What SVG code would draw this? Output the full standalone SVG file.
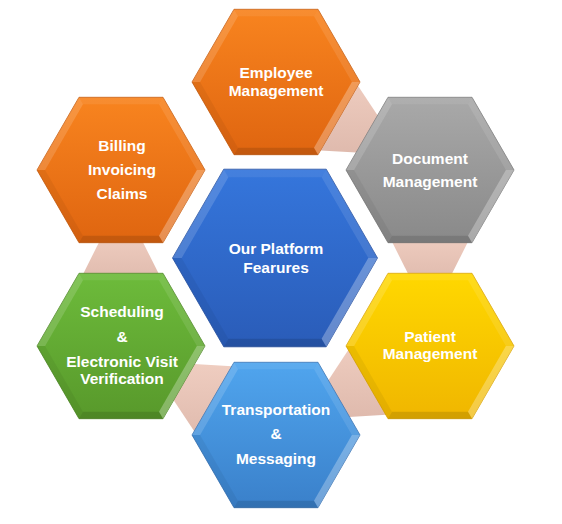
<svg xmlns="http://www.w3.org/2000/svg" xmlns:xlink="http://www.w3.org/1999/xlink" width="562" height="524" viewBox="0 0 562 524">
<defs>
<style>
.t{font-family:"Liberation Sans",Arial,sans-serif;font-weight:bold;font-size:15.5px;fill:#ffffff;text-anchor:middle}
.con{fill:url(#gCon);stroke:none}
.hw{fill:#ffffff}
.hb{fill:#000000}
</style>
<linearGradient id="gCon" x1="0" y1="0" x2="0" y2="1"><stop offset="0" stop-color="#EFCDC0"/><stop offset="1" stop-color="#DFBAAD"/></linearGradient>
<linearGradient id="gOr" x1="0" y1="0" x2="0" y2="1"><stop offset="0" stop-color="#F8841F"/><stop offset="1" stop-color="#DF6510"/></linearGradient>
<linearGradient id="gGy" x1="0" y1="0" x2="0" y2="1"><stop offset="0" stop-color="#A9A9A9"/><stop offset="1" stop-color="#898989"/></linearGradient>
<linearGradient id="gBl" x1="0" y1="0" x2="0" y2="1"><stop offset="0" stop-color="#3576DC"/><stop offset="1" stop-color="#2A5CB8"/></linearGradient>
<linearGradient id="gGr" x1="0" y1="0" x2="0" y2="1"><stop offset="0" stop-color="#6DBB3B"/><stop offset="1" stop-color="#58992B"/></linearGradient>
<linearGradient id="gYe" x1="0" y1="0" x2="0" y2="1"><stop offset="0" stop-color="#FFD800"/><stop offset="1" stop-color="#F0B600"/></linearGradient>
<linearGradient id="gLb" x1="0" y1="0" x2="0" y2="1"><stop offset="0" stop-color="#50A5EE"/><stop offset="1" stop-color="#3A80CA"/></linearGradient>
<polygon id="hexS" points="84,0 42,72.7 -42,72.7 -84,0 -42,-72.7 42,-72.7"/>
<polygon id="hexL" points="102.5,0 51.25,88.8 -51.25,88.8 -102.5,0 -51.25,-88.8 51.25,-88.8"/>
<g id="bevS">
<polygon class="hw" fill-opacity="0.28" points="84,0 42,72.7 38,65.7 75.9,0"/>
<polygon class="hb" fill-opacity="0.12" points="42,72.7 -42,72.7 -38,65.7 38,65.7"/>
<polygon class="hb" fill-opacity="0.05" points="-42,72.7 -84,0 -75.9,0 -38,65.7"/>
<polygon class="hw" fill-opacity="0.15" points="-84,0 -42,-72.7 -38,-65.7 -75.9,0"/>
<polygon class="hw" fill-opacity="0.08" points="-42,-72.7 42,-72.7 38,-65.7 -38,-65.7"/>
<polygon class="hw" fill-opacity="0.1" points="42,-72.7 84,0 75.9,0 38,-65.7"/>
</g>
<g id="bevL">
<polygon class="hw" fill-opacity="0.28" points="102.5,0 51.25,88.8 46.6,80.8 93.3,0"/>
<polygon class="hb" fill-opacity="0.12" points="51.25,88.8 -51.25,88.8 -46.6,80.8 46.6,80.8"/>
<polygon class="hb" fill-opacity="0.05" points="-51.25,88.8 -102.5,0 -93.3,0 -46.6,80.8"/>
<polygon class="hw" fill-opacity="0.15" points="-102.5,0 -51.25,-88.8 -46.6,-80.8 -93.3,0"/>
<polygon class="hw" fill-opacity="0.08" points="-51.25,-88.8 51.25,-88.8 46.6,-80.8 -46.6,-80.8"/>
<polygon class="hw" fill-opacity="0.1" points="51.25,-88.8 102.5,0 93.3,0 46.6,-80.8"/>
</g>
</defs>

<g id="connectors">
<polygon class="con" points="352.8,78.1 382.5,122.7 365.1,153.1 311.6,150.1"/>
<polygon class="con" points="388.5,234.7 471.5,234.7 448.2,281.3 411.8,281.3"/>
<polygon class="con" points="79.5,281.3 162.5,281.3 139.2,234.7 102.8,234.7"/>
<polygon class="con" points="353.2,342.4 394.7,414.3 340.6,417.6 323.4,387.7"/>
<polygon class="con" points="240.6,366.8 185.5,363.6 168.7,392.8 199.2,438.8"/>
</g>

<g id="employee" transform="translate(276,82)">
<use xlink:href="#hexS" href="#hexS" fill="url(#gOr)" stroke="#C55A0C" stroke-width="0.8"/>
<use xlink:href="#bevS" href="#bevS"/>
<text class="t" x="0" y="-4">Employee</text>
<text class="t" x="0" y="14">Management</text>
</g>

<g id="billing" transform="translate(121,170)">
<use xlink:href="#hexS" href="#hexS" fill="url(#gOr)" stroke="#C55A0C" stroke-width="0.8"/>
<use xlink:href="#bevS" href="#bevS"/>
<text class="t" x="1" y="-19">Billing</text>
<text class="t" x="1" y="5">Invoicing</text>
<text class="t" x="1" y="29">Claims</text>
</g>

<g id="document" transform="translate(430,170)">
<use xlink:href="#hexS" href="#hexS" fill="url(#gGy)" stroke="#777777" stroke-width="0.8"/>
<use xlink:href="#bevS" href="#bevS"/>
<text class="t" x="0" y="-6">Document</text>
<text class="t" x="0" y="17">Management</text>
</g>

<g id="center" transform="translate(275,258)">
<use xlink:href="#hexL" href="#hexL" fill="url(#gBl)" stroke="#244FA0" stroke-width="0.8"/>
<use xlink:href="#bevL" href="#bevL"/>
<text class="t" x="1" y="-4">Our Platform</text>
<text class="t" x="1" y="15">Fearures</text>
</g>

<g id="scheduling" transform="translate(121,346)">
<use xlink:href="#hexS" href="#hexS" fill="url(#gGr)" stroke="#4C8624" stroke-width="0.8"/>
<use xlink:href="#bevS" href="#bevS"/>
<text class="t" x="1" y="-29">Scheduling</text>
<text class="t" x="1" y="-4">&amp;</text>
<text class="t" x="1" y="21">Electronic Visit</text>
<text class="t" x="1" y="38">Verification</text>
</g>

<g id="patient" transform="translate(430,346)">
<use xlink:href="#hexS" href="#hexS" fill="url(#gYe)" stroke="#D9A200" stroke-width="0.8"/>
<use xlink:href="#bevS" href="#bevS"/>
<text class="t" x="0" y="-4">Patient</text>
<text class="t" x="0" y="13">Management</text>
</g>

<g id="transportation" transform="translate(276,435)">
<use xlink:href="#hexS" href="#hexS" fill="url(#gLb)" stroke="#336FB0" stroke-width="0.8"/>
<use xlink:href="#bevS" href="#bevS"/>
<text class="t" x="0" y="-20">Transportation</text>
<text class="t" x="0" y="4">&amp;</text>
<text class="t" x="0" y="29">Messaging</text>
</g>
</svg>
